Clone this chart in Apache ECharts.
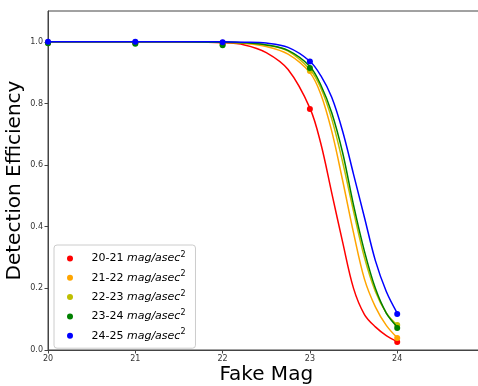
<!DOCTYPE html>
<html>
<head>
<meta charset="utf-8">
<script src="https://cdn.jsdelivr.net/npm/echarts@6/dist/echarts.min.js"></script>
<style>html,body{margin:0;padding:0;background:#fff;}#c{width:478px;height:386px;}</style>
</head>
<body>
<div id="c"></div>
<script>
const groups = ['20-21', '21-22', '22-23', '23-24', '24-25'];
const fakeMag = [20, 21, 22, 23, 24];
const eff2021 = [0.998, 0.998, 0.997, 0.782, 0.026];
const eff2122 = [0.997, 0.997, 0.996, 0.905, 0.039];
const eff2223 = [0.996, 0.996, 0.993, 0.910, 0.081];
const eff2324 = [0.995, 0.994, 0.989, 0.915, 0.071];
const eff2425 = [1.000, 1.000, 0.999, 0.936, 0.117];

const fitMag = [20, 21, 21.5, 22, 22.25, 22.5, 22.75, 23, 23.125, 23.25, 23.375, 23.5, 23.625, 23.75, 23.875, 24];
const fit2021 = [1.0, 1.0, 0.9995, 0.997, 0.99, 0.965, 0.91, 0.785, 0.67, 0.51, 0.35, 0.2, 0.115, 0.075, 0.047, 0.028];
const fit2122 = [1.0, 1.0, 1.0, 0.999, 0.995, 0.985, 0.96, 0.9, 0.83, 0.71, 0.55, 0.38, 0.23, 0.14, 0.08, 0.04];
const fit2223 = [1.0, 1.0, 1.0, 0.999, 0.997, 0.99, 0.97, 0.91, 0.85, 0.75, 0.61, 0.45, 0.30, 0.19, 0.12, 0.08];
const fit2324 = [1.0, 1.0, 1.0, 0.999, 0.997, 0.99, 0.972, 0.92, 0.86, 0.77, 0.64, 0.47, 0.32, 0.2, 0.12, 0.075];
const fit2425 = [1.0, 1.0, 1.0, 1.0, 0.999, 0.996, 0.982, 0.937, 0.89, 0.82, 0.71, 0.57, 0.43, 0.29, 0.19, 0.12];

const yTicks = [0, 0.2, 0.4, 0.6, 0.8, 1.0];

const colors = ['#ff0000', '#ffa500', '#bfbf00', '#008000', '#0000ff'];
const points = [eff2021, eff2122, eff2223, eff2324, eff2425];
const fits = [fit2021, fit2122, fit2223, fit2324, fit2425];

const series = [];
groups.forEach((g, i) => {
  series.push({
    name: g + ' fit',
    type: 'line',
    data: fitMag.map((x, k) => [x, fits[i][k]]),
    showSymbol: false,
    smooth: 0.35,
    lineStyle: { color: colors[i], width: 1.5 },
    itemStyle: { color: colors[i] },
    silent: true,
    z: 2 + i * 2
  });
  series.push({
    name: g,
    type: 'scatter',
    data: fakeMag.map((x, k) => [x, points[i][k]]),
    symbol: 'circle',
    symbolSize: 6,
    itemStyle: { color: colors[i], opacity: 1 },
    z: 3 + i * 2
  });
});

const chart = echarts.init(document.getElementById('c'), null, { renderer: 'canvas' });
chart.setOption({
  animation: false,
  backgroundColor: '#ffffff',
  textStyle: { fontFamily: 'DejaVu Sans' },
  grid: { left: 48, right: -6.5, top: 11, bottom: 36, show: true, borderColor: '#444', borderWidth: 1, containLabel: false, outerBoundsMode: 'none' },
  xAxis: {
    type: 'value', min: 20, max: 25, interval: 1,
    name: 'Fake Mag', nameLocation: 'middle', nameGap: 15, nameMoveOverlap: false,
    nameTextStyle: { fontSize: 20, color: '#000', fontFamily: 'DejaVu Sans', verticalAlign: 'top' },
    axisLine: { show: true, lineStyle: { color: '#444', width: 1 } },
    axisTick: { show: true, inside: false, length: 3.5, lineStyle: { color: '#444' } },
    axisLabel: { fontSize: 8, color: '#333', margin: 5, fontFamily: 'DejaVu Sans', showMaxLabel: false },
    splitLine: { show: false }
  },
  yAxis: {
    type: 'value', min: 0, max: 1.1, interval: 0.2,
    name: 'Detection Efficiency', nameLocation: 'middle', nameGap: 23, nameMoveOverlap: false,
    nameTextStyle: { fontSize: 20, color: '#000', fontFamily: 'DejaVu Sans' },
    axisLine: { show: true, lineStyle: { color: '#444', width: 1 } },
    axisTick: { show: true, inside: false, length: 3.5, lineStyle: { color: '#444' } },
    axisLabel: {
      fontSize: 8, color: '#333', margin: 5, fontFamily: 'DejaVu Sans', showMaxLabel: false,
      formatter: v => (yTicks.some(t => Math.abs(t - v) < 1e-9) ? v.toFixed(1) : '')
    },
    splitLine: { show: false }
  },
  legend: {
    data: groups.map(g => ({ name: g, icon: 'circle' })),
    orient: 'vertical',
    left: 54, top: 245,
    padding: [6, 10, 5, 13],
    itemWidth: 25, itemHeight: 6, itemGap: 4.3,
    backgroundColor: 'rgba(255,255,255,0.8)',
    borderColor: '#cccccc', borderWidth: 1, borderRadius: 3,
    formatter: name => name + ' {i|mag/asec}{s|2}',
    textStyle: {
      fontSize: 11, color: '#000', lineHeight: 15, padding: [0, 0, 0, 4], fontFamily: 'DejaVu Sans',
      rich: {
        i: { fontSize: 11, fontStyle: 'italic', lineHeight: 15, color: '#000', fontFamily: 'DejaVu Sans' },
        s: { fontSize: 8, lineHeight: 9, verticalAlign: 'top', color: '#000', fontFamily: 'DejaVu Sans' }
      }
    }
  },
  series: series
});
</script>
</body>
</html>
